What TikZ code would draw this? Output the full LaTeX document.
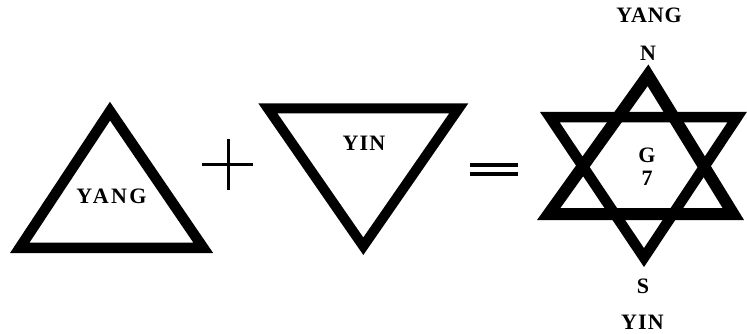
\documentclass[tikz,border=0pt]{standalone}
\usepackage{fontspec}
\setmainfont{Liberation Serif}
\begin{document}
\begin{tikzpicture}[x=1pt,y=-1pt,
  tri/.style={line width=10.5pt, line join=miter, miter limit=20},
  signline/.style={line width=3pt},
  lbl/.style={font=\fontsize{22}{22}\selectfont\bfseries, inner sep=0pt, text depth=0pt, anchor=center}]
\useasboundingbox[fill=white] (0,0) rectangle (747,334);

% YANG triangle (left)
\coordinate (a1) at (19.8,247.75);
\coordinate (a2) at (203.2,247.75);
\coordinate (a3) at (110,111.2);
\draw[tri] (a1) -- (a2) -- (a3) -- cycle;

% plus sign
\coordinate (p1) at (202,165);
\coordinate (p2) at (253,165);
\coordinate (p3) at (228,139);
\coordinate (p4) at (228,190);
\draw[signline] (p1) -- (p2);
\draw[signline] (p3) -- (p4);

% YIN triangle (middle)
\coordinate (b1) at (267.8,108.3);
\coordinate (b2) at (458.8,108.3);
\coordinate (b3) at (363.3,246.2);
\draw[tri, line width=10pt] (b1) -- (b2) -- (b3) -- cycle;

% equals sign
\coordinate (e1) at (470,165);
\coordinate (e2) at (518,165);
\coordinate (e3) at (470,174);
\coordinate (e4) at (518,174);
\draw[line width=4pt] (e1) -- (e2);
\draw[line width=4pt] (e3) -- (e4);

% star: up triangle
\coordinate (u1) at (548.7,214);
\coordinate (u2) at (733.3,214);
\coordinate (u3) at (648,75.3);
\draw[tri, line width=12pt] (u1) -- (u2) -- (u3) -- cycle;
% star: down triangle
\coordinate (d1) at (549.9,117.25);
\coordinate (d2) at (737.1,117.25);
\coordinate (d3) at (644,257.6);
\draw[tri] (d1) -- (d2) -- (d3) -- cycle;

% labels
\node[lbl] (yangL) at (111.5,196.5) {\addfontfeatures{LetterSpace=11}YANG};
\node[lbl] (yinM) at (364,143) {\addfontfeatures{LetterSpace=5}YIN};
\node[lbl] (yangT) at (649,15.5) {\addfontfeatures{LetterSpace=4}YANG};
\node[lbl] (north) at (648,53.5) {N};
\node[lbl] (gee) at (647,155) {G};
\node[lbl] (seven) at (647,178) {7};
\node[lbl] (south) at (643,286) {S};
\node[lbl] (yinB) at (642.5,322.5) {\addfontfeatures{LetterSpace=5}YIN};
\end{tikzpicture}
\end{document}
